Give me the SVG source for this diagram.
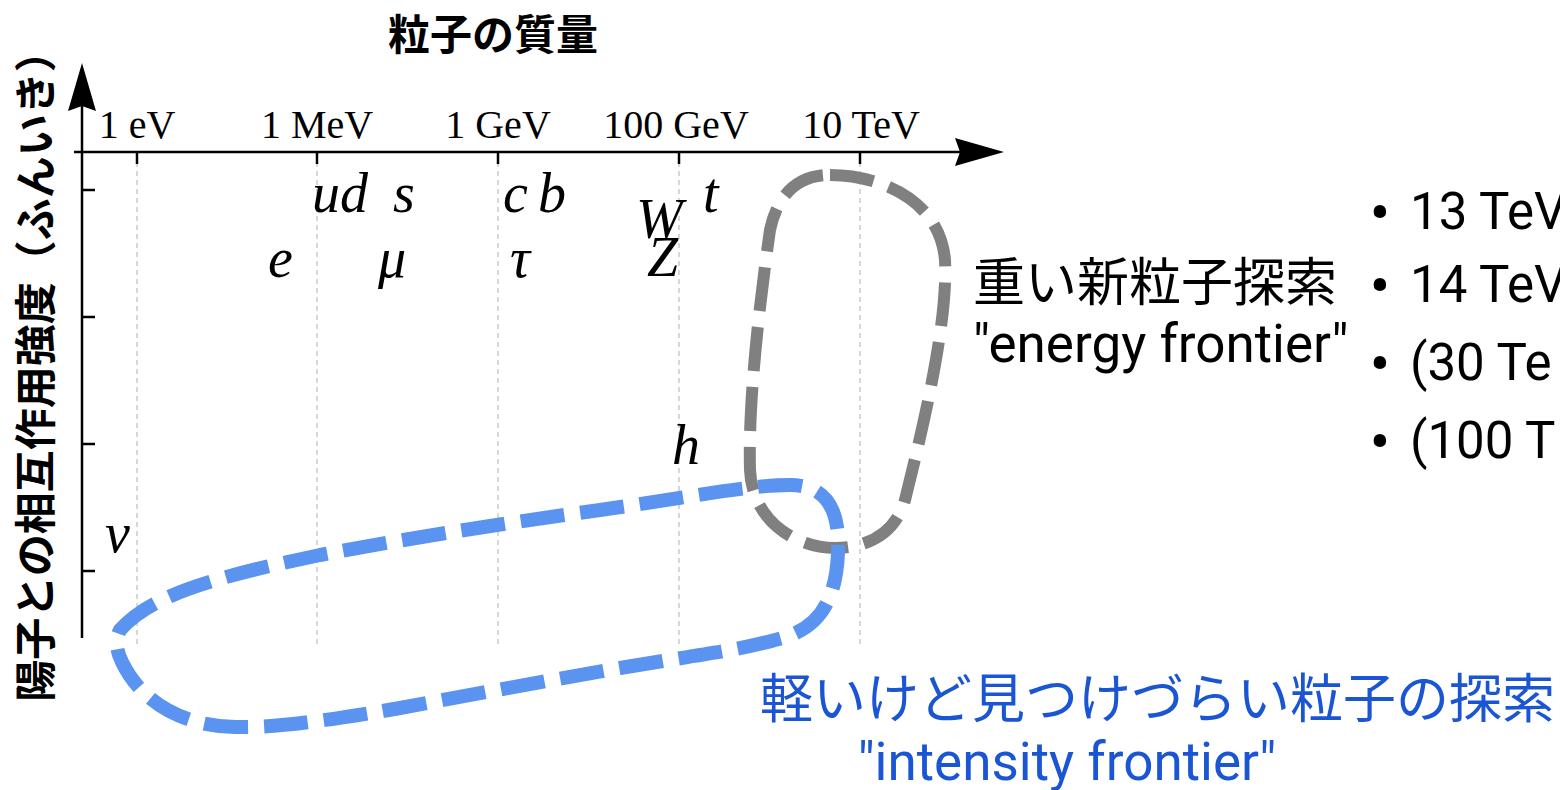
<svg xmlns="http://www.w3.org/2000/svg" width="1560" height="790" viewBox="0 0 1560 790">
<style>
.axis{stroke:#000;stroke-width:2.5;fill:none}
.tick{stroke:#000;stroke-width:2.5}
.grid{stroke:#bdbdbd;stroke-width:1.2;stroke-dasharray:5 4}
.tl{font-family:"Liberation Serif","Times New Roman",serif;font-size:40px;fill:#000;text-anchor:middle}
.pt{font-family:"Liberation Serif","Times New Roman",serif;font-style:italic;font-size:56px;fill:#000}
.jb{font-family:"Noto Sans CJK JP",sans-serif;font-weight:700;font-size:42px;fill:#000}
.jr{font-family:"Noto Sans CJK JP",sans-serif;font-size:52px;fill:#000}
.lr{font-family:Roboto,"Noto Sans",sans-serif;font-size:53px;fill:#000}
.bl{font-family:Roboto,"Noto Sans",sans-serif;font-size:51px;fill:#000}
.bu{font-family:Roboto,"Noto Sans",sans-serif;font-size:62px;fill:#000;text-anchor:middle}
.blue{fill:#1a55d4}
.blob{fill:none;stroke-linecap:butt;stroke-linejoin:round}
</style>
<rect width="1560" height="790" fill="#fff"/>
<g id="axes">
<line class="grid" x1="137" y1="162" x2="137" y2="645"/>
<line class="grid" x1="317" y1="162" x2="317" y2="645"/>
<line class="grid" x1="498" y1="162" x2="498" y2="645"/>
<line class="grid" x1="679" y1="162" x2="679" y2="645"/>
<line class="grid" x1="860" y1="162" x2="860" y2="645"/>
<line class="axis" x1="74" y1="152" x2="960" y2="152"/>
<line class="axis" x1="82" y1="638" x2="82" y2="100"/>
<polygon points="1004,152 955,138 960,152 955,166" fill="#000"/>
<polygon points="82,63 96,111 82,106 68,111" fill="#000"/>
<line class="tick" x1="137" y1="152" x2="137" y2="164"/>
<line class="tick" x1="317" y1="152" x2="317" y2="164"/>
<line class="tick" x1="498" y1="152" x2="498" y2="164"/>
<line class="tick" x1="679" y1="152" x2="679" y2="164"/>
<line class="tick" x1="860" y1="152" x2="860" y2="164"/>
<line class="tick" x1="82" y1="190" x2="95" y2="190"/>
<line class="tick" x1="82" y1="317" x2="95" y2="317"/>
<line class="tick" x1="82" y1="444" x2="95" y2="444"/>
<line class="tick" x1="82" y1="571" x2="95" y2="571"/>
<text class="tl" x="137" y="138">1 eV</text>
<text class="tl" x="317" y="138">1 MeV</text>
<text class="tl" x="498" y="138">1 GeV</text>
<text class="tl" x="676" y="138">100 GeV</text>
<text class="tl" x="861" y="138">10 TeV</text>
<text class="jb" x="493" y="50" text-anchor="middle">粒子の質量</text>
<text class="jb" transform="translate(51,366) rotate(-90)" text-anchor="middle">陽子との相互作用強度（ふんいき）</text>
</g>
<g id="particles">
<text class="pt" x="312" y="212">ud</text>
<text class="pt" x="393" y="212">s</text>
<text class="pt" x="503" y="212">c</text>
<text class="pt" x="538" y="212">b</text>
<text class="pt" x="703" y="212">t</text>
<text class="pt" x="636" y="238">W</text>
<text class="pt" x="647" y="276">Z</text>
<text class="pt" x="268" y="277">e</text>
<text class="pt" x="378" y="277">μ</text>
<text class="pt" x="510" y="277">τ</text>
<text class="pt" x="672" y="464">h</text>
<text class="pt" x="105" y="552">ν</text>
</g>
<g id="connectors">
<path id="energy-blob" class="blob" stroke="#808080" stroke-width="12" stroke-dasharray="44 16" d="M 830,175 C 880,175 940,200 945,260 C 948,320 925,420 905,500 C 895,535 865,548 835,548 C 795,548 752,520 750,470 C 748,400 760,300 770,230 C 778,192 800,175 830,175 Z"/>
<path id="intensity-blob" class="blob" stroke="#5b93f0" stroke-width="14" stroke-dasharray="44 16" d="M 120,630 C 150,596 210,578 320,555 C 420,536 520,521 600,510 C 690,497 750,485 790,485 C 830,485 840,515 838,553 C 836,600 820,630 775,640 C 730,652 690,656 620,668 C 550,680 470,695 400,708 C 320,722 270,728 235,727 C 180,726 140,700 122,662 C 116,650 115,640 120,630 Z"/>
</g>
<g id="energy-label">
<text class="jr" x="973" y="301">重い新粒子探索</text>
<text class="lr" x="973" y="362">"energy frontier"</text>
</g>
<g id="colliders">
<text class="bu" x="1380" y="234">•</text>
<text class="bl" x="1410" y="229">13 TeV</text>
<text class="bu" x="1380" y="307">•</text>
<text class="bl" x="1410" y="302">14 TeV</text>
<text class="bu" x="1380" y="385">•</text>
<text class="bl" x="1410" y="380">(30 Te</text>
<text class="bu" x="1380" y="463">•</text>
<text class="bl" x="1410" y="458">(100 T</text>
</g>
<g id="intensity-label">
<text class="jr blue" x="760" y="718" style="font-size:53px">軽いけど見つけづらい粒子の探索</text>
<text class="lr blue" x="1067" y="780" text-anchor="middle">"intensity frontier"</text>
</g>
</svg>
